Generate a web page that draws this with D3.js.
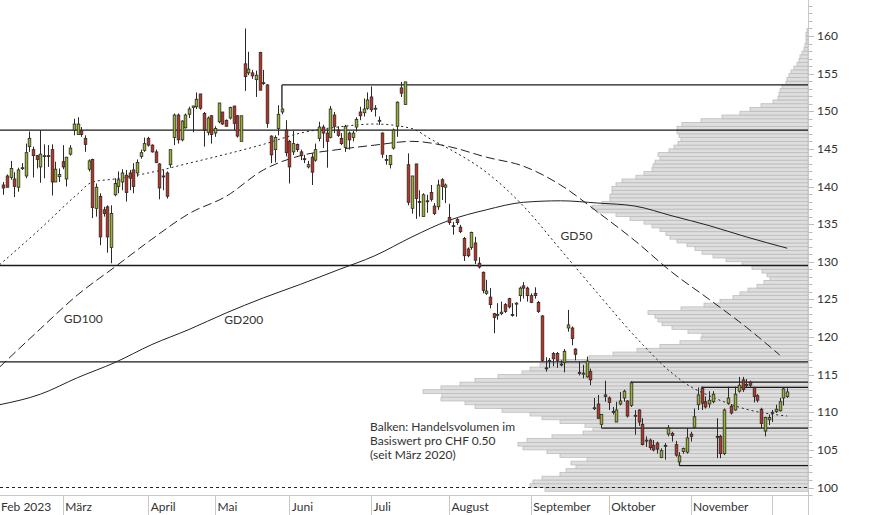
<!DOCTYPE html>
<html><head><meta charset="utf-8">
<script src="https://cdn.jsdelivr.net/npm/d3@7"></script>
<style>
body{margin:0;background:#fff}
svg{display:block}
text{font-family:Lato,"Open Sans",sans-serif;fill:#333}
</style>
</head><body>
<svg id="chart" width="874" height="515"></svg>
<script>
// ---------- DATA ----------
const monthLabels   = ["Feb 2023","März","April","Mai","Juni","Juli","August","September","Oktober","November",""];
const monthStartIdx = [-4,16,39,57,77,99,120,142,163,185,207];

// daily candles [open, high, low, close], trading days from 7 Feb 2023
const candles = [
[140.2,140.6,138.9,139.8],[141.4,141.6,139.9,139.9],[141.2,143.4,140.9,142.4],[141.0,141.9,138.6,140.0],
[139.9,142.5,139.3,142.2],[142.4,143.1,142.2,142.5],[141.4,145.7,141.1,144.5],[145.3,147.3,144.6,146.4],
[144.9,145.3,141.2,144.1],[144.1,144.2,142.4,143.6],[142.6,147.5,140.5,144.3],[144.0,145.6,141.1,144.1],
[144.1,145.5,142.6,144.0],[144.9,145.6,138.8,140.6],[140.6,143.3,140.6,142.3],[141.3,142.4,140.6,141.6],
[143.3,145.5,142.3,142.6],[141.0,143.9,140.0,143.9],[144.3,145.5,144.1,145.1],[147.5,149.0,146.8,148.3],
[146.9,149.2,146.9,148.3],[147.4,147.9,146.6,146.9],[146.4,146.8,144.6,145.6],[142.3,143.6,142.0,143.4],
[143.6,143.7,135.8,137.2],[137.1,140.4,136.0,139.9],[138.7,139.1,132.2,133.3],[136.9,137.3,136.0,136.4],
[137.3,137.5,131.2,133.3],[131.9,137.5,129.8,136.4],[138.9,141.1,138.7,140.4],[140.0,142.0,139.1,140.9],
[140.6,142.3,139.5,141.8],[141.5,142.2,138.0,139.2],[141.8,142.2,139.5,141.1],[142.2,143.1,139.1,140.0],
[141.8,143.6,141.3,143.2],[144.0,144.9,143.7,144.5],[144.8,146.5,144.6,145.7],[146.4,146.6,145.3,145.5],
[145.5,145.6,144.5,144.6],[144.6,144.9,143.1,143.2],[143.0,143.1,138.3,139.8],[141.4,142.2,139.5,141.3],
[141.8,142.0,138.4,138.7],[142.9,144.9,142.5,144.9],[146.5,149.7,145.5,149.5],[149.5,149.7,145.7,146.2],
[146.2,148.8,146.0,148.7],[147.8,149.7,147.7,149.5],[149.6,150.6,149.1,150.3],[150.5,150.7,147.2,150.7],
[150.6,152.5,150.3,151.6],[152.3,152.3,150.2,150.4],[149.7,149.9,145.3,147.5],[147.2,149.3,146.8,149.1],
[149.4,149.5,145.7,146.9],[147.1,148.0,146.6,147.7],[148.6,151.1,148.4,151.1],[149.9,149.9,148.2,148.3],
[148.8,148.9,148.0,148.0],[149.1,150.6,148.9,150.5],[150.7,150.7,147.5,148.4],[149.4,149.5,146.5,146.7],
[146.0,149.4,146.0,149.4],[156.3,161.0,152.7,154.6],[155.1,157.9,154.8,155.6],[155.1,155.5,154.3,154.7],
[154.2,155.4,151.9,154.8],[157.8,157.9,152.8,152.8],[153.8,155.5,153.5,153.8],[153.5,153.6,147.8,148.4],
[146.7,146.8,143.1,144.2],[144.9,146.8,143.2,146.5],[147.7,150.8,146.8,149.6],[149.9,150.4,149.6,150.3],
[147.5,148.8,144.0,144.5],[146.0,146.2,140.4,142.6],[144.6,147.4,144.2,145.7],[145.6,145.7,144.6,144.9],
[144.6,144.9,143.5,144.1],[143.7,144.2,143.1,143.6],[142.6,143.4,142.4,142.9],[143.9,144.4,140.2,141.9],
[143.5,145.7,143.3,144.9],[146.4,148.6,146.0,147.9],[147.9,148.2,145.1,147.1],[147.1,147.6,142.5,146.0],
[146.5,150.7,146.4,150.3],[149.5,149.9,147.1,148.0],[147.5,148.0,146.6,146.8],[146.4,147.1,145.5,145.7],
[145.2,148.2,144.6,148.0],[147.1,147.3,144.9,146.2],[146.5,147.4,146.0,147.1],[147.9,149.2,147.3,148.9],
[149.9,150.6,148.8,149.4],[149.8,151.7,149.3,150.3],[150.4,152.5,150.2,151.5],[151.9,153.3,149.9,150.2],
[150.3,150.8,149.3,150.4],[148.8,149.3,148.2,148.8],[147.1,147.2,143.8,144.3],[143.6,144.2,142.9,143.6],
[142.9,144.2,142.4,144.1],[145.1,147.7,144.9,147.5],[148.0,151.3,146.6,151.2],[153.1,153.9,151.9,152.4],
[150.9,153.9,150.9,153.9],[142.9,144.4,137.5,137.9],[137.1,141.4,136.4,141.4],[143.0,143.0,135.7,138.4],
[138.0,139.5,136.0,137.9],[136.0,139.1,136.0,138.9],[138.1,138.9,136.5,138.0],[139.2,140.2,138.0,138.3],
[137.4,137.8,136.2,136.4],[137.3,140.9,136.9,140.2],[140.9,141.1,138.2,140.0],[139.9,140.4,137.8,140.2],
[135.9,137.7,134.9,135.2],[134.8,135.3,133.6,134.7],[135.6,135.8,134.9,135.2],[134.6,134.9,133.8,134.0],
[133.1,133.3,130.1,130.8],[131.7,131.9,130.6,130.8],[131.9,134.0,131.6,133.9],[132.5,133.3,129.7,130.2],
[129.8,130.6,129.1,129.3],[128.6,128.7,125.8,126.2],[125.8,127.6,125.6,126.1],[125.3,126.5,123.8,124.3],
[123.1,123.2,120.5,122.6],[122.9,124.5,122.3,123.0],[123.1,124.7,122.9,123.3],[124.3,124.5,123.2,123.4],
[125.1,125.2,123.8,124.0],[123.0,124.5,122.7,122.9],[124.5,124.6,122.7,124.5],[125.5,126.7,124.7,126.5],
[126.8,127.3,125.1,126.5],[126.5,126.7,124.7,125.5],[125.5,125.8,124.5,124.6],[125.8,126.6,125.1,125.5],
[124.6,124.8,123.2,123.4],[122.8,122.9,116.7,116.9],[115.9,117.3,115.4,115.8],[116.8,117.2,115.9,116.9],
[117.8,118.0,116.1,117.1],[117.8,118.0,115.9,116.9],[116.4,116.9,116.1,116.4],[116.6,118.4,115.3,118.1],
[121.2,123.6,120.7,121.6],[121.2,121.4,118.9,119.8],[118.4,118.5,116.9,117.7],[115.3,116.8,114.9,115.3],
[115.1,116.3,114.5,115.2],[114.7,117.4,114.6,116.8],[115.4,115.8,113.6,114.3],[110.6,111.9,110.3,110.6],
[111.1,112.3,109.1,109.2],[108.4,109.7,107.9,109.7],[112.3,114.2,111.4,112.1],[111.9,112.1,110.3,111.3],
[110.1,110.7,109.7,110.1],[108.7,111.4,108.7,110.3],[111.1,112.7,110.9,111.5],[111.9,113.0,111.4,112.8],
[111.5,111.6,109.3,109.5],[110.9,114.1,110.7,113.9],[109.6,110.3,107.0,109.5],[110.3,110.4,108.2,108.7],
[108.4,109.2,105.6,105.7],[106.3,106.8,105.4,106.3],[106.3,106.5,105.0,105.3],[105.6,106.3,104.8,105.0],
[105.9,106.1,104.5,105.1],[104.0,105.2,103.9,104.9],[105.6,105.9,103.7,105.5],[107.1,108.3,106.8,107.9],
[107.2,107.4,106.1,106.9],[105.7,106.2,104.1,104.3],[103.4,104.7,102.9,104.2],[104.8,105.3,104.5,105.2],
[104.7,107.9,104.5,106.6],[107.1,107.4,106.1,106.8],[108.0,110.5,107.9,109.4],[111.0,113.3,110.3,112.3],
[113.2,113.4,110.3,111.2],[111.4,112.1,110.5,110.7],[111.1,112.8,110.6,111.6],[111.4,112.8,111.2,112.4],
[106.8,109.2,103.9,106.7],[106.8,107.0,103.9,104.5],[104.5,110.5,104.3,110.3],[111.2,113.4,111.0,111.9],
[110.8,111.1,109.7,109.9],[110.3,113.4,110.2,112.4],[112.8,114.7,112.6,113.6],[114.3,114.7,112.7,113.0],
[113.7,114.4,113.2,113.7],[114.0,114.2,113.2,113.6],[113.3,113.4,111.3,112.1],[112.2,112.4,111.3,111.6],
[110.4,110.6,107.9,108.5],[107.5,109.4,106.8,109.3],[109.0,109.7,108.3,109.3],[110.0,110.3,108.7,110.0],
[110.1,111.0,109.9,110.4],[110.2,111.9,110.1,111.4],[111.9,113.3,110.9,113.1],[112.1,113.2,111.9,112.7]
];

// moving averages: [trading-day index, value]
const gd50  = [[-1,129.6],[10,134.4],[20,139.0],[24,140.6],[30,141.0],[40,141.9],[50,143.1],[60,144.3],[70,145.6],
  [80,147.1],[90,147.9],[100,148.3],[110,147.7],[115,146.3],[120,145.0],[130,141.9],[140,137.4],[150,131.6],[160,125.8],
  [170,120.1],[180,115.2],[185,113.4],[190,112.2],[200,110.4],[211,109.5]];
const gd100 = [[-1,116.0],[10,121.1],[20,125.6],[30,129.3],[40,133.0],[50,136.4],[60,138.7],[70,142.2],[80,144.1],
  [90,144.9],[100,145.5],[110,146.0],[120,145.3],[130,143.9],[140,142.7],[150,140.2],[160,136.6],[170,132.8],
  [180,128.6],[190,125.0],[200,121.3],[209,117.6]];
const gd200 = [[-1,111.0],[10,112.4],[20,114.6],[30,116.6],[40,119.0],[50,121.0],[60,123.2],[70,125.2],[80,127.0],
  [90,128.9],[100,130.8],[110,133.3],[120,135.5],[130,136.9],[140,137.9],[150,138.1],[160,137.8],[170,137.4],
  [180,136.1],[190,134.8],[200,133.3],[211,131.8]];

// volume profile: bins of CHF 0.50 starting at 99.5
const volBinStart = 99.5, volBinStep = 0.5;
const volumes = [
 263,278,275,266,248,242,232,237,221,248,
 261,285,290,281,256,225,215,223,248,266,
 278,306,333,343,367,366,385,367,348,333,
 310,286,278,268,248,219,195,171,148,128,
 107,106,120,136,146,150,153,160,127,104,
 88,75,68,60,51,44,38,41,46,56,
 66,82,95,106,113,121,131,138,142,148,
 156,164,178,192,211,216,206,198,198,196,
 196,192,186,172,164,156,155,153,148,150,
 139,134,130,127,129,131,131,126,107,86,
 68,58,47,35,30,29,28,26,22,21,
 19,17,14,11,9,8,6,4,3,2,
 2,2,1];

// support / resistance lines
const levelPrices = [153.5,147.5,129.5,116.7,114.0,113.3,107.9,102.9];
const levelStart  = [75,null,null,null,169,188,161,182];
const levelAnchor = [150.4,null,null,null,114.1,113.4,107.9,104.2];

const yTickLabels = [100,105,110,115,120,125,130,135,140,145,150,155,160];
const maLabels = [{t:"GD100",i:16.3,v:122.3},{t:"GD200",i:59.5,v:122.1},{t:"GD50",i:150,v:133.3}];
const noteLines = ["Balken: Handelsvolumen im","Basiswert pro CHF 0.50","(seit März 2020)"];

// ---------- CHART ----------
const svg = d3.select("#chart");
const plotRight = 808, axisY = 495.5;
const x = d3.scaleLinear().domain([-0.888, 216.6]).range([0, plotRight]);
const y = d3.scaleLinear().domain([100, 160]).range([487.5, 36]);
const vx = d3.scaleLinear().domain([0, 400]).range([plotRight, plotRight - 400]);

svg.append("defs").append("clipPath").attr("id","plot")
  .append("rect").attr("x",0).attr("y",0).attr("width",plotRight).attr("height",axisY);

const g = svg.append("g").attr("clip-path","url(#plot)");

// volume profile
g.append("g").selectAll("rect").data(volumes).join("rect")
  .attr("x", d => vx(d))
  .attr("y", (d,k) => y(volBinStart + (k+1)*volBinStep))
  .attr("width", d => plotRight - vx(d))
  .attr("height", (d,k) => y(volBinStart + k*volBinStep) - y(volBinStart + (k+1)*volBinStep))
  .attr("fill","#dedede").attr("stroke","#bcbcbc").attr("stroke-width",0.8);

// dashed 100 line
g.append("line").attr("x1",0).attr("x2",plotRight).attr("y1",y(100)).attr("y2",y(100))
  .attr("stroke","#222").attr("stroke-width",1).attr("stroke-dasharray","3,3");

// level lines
levelPrices.forEach((p,k) => {
  const s = levelStart[k];
  const x1 = s === null ? 0 : x(s);
  g.append("line").attr("x1",x1).attr("x2",plotRight).attr("y1",y(p)).attr("y2",y(p))
    .attr("stroke","#1a1a1a").attr("stroke-width",1.3);
  if (s !== null) {
    g.append("line").attr("x1",x(s)).attr("x2",x(s)).attr("y1",y(p)).attr("y2",y(levelAnchor[k]))
      .attr("stroke","#1a1a1a").attr("stroke-width",1.3);
  }
});

// moving averages
const line = d3.line().x(d => x(d[0])).y(d => y(d[1])).curve(d3.curveMonotoneX);
g.append("path").attr("d", line(gd200)).attr("fill","none").attr("stroke","#222").attr("stroke-width",1);
g.append("path").attr("d", line(gd100)).attr("fill","none").attr("stroke","#222").attr("stroke-width",1)
  .attr("stroke-dasharray","9,4");
g.append("path").attr("d", line(gd50)).attr("fill","none").attr("stroke","#222").attr("stroke-width",1)
  .attr("stroke-dasharray","2,3");

// candles
const cg = g.append("g");
candles.forEach((c,i) => {
  const [o,h,l,cl] = c;
  const cx = Math.round(x(i)) + 0.5;
  cg.append("line").attr("x1",cx).attr("x2",cx).attr("y1",y(h)).attr("y2",y(l))
    .attr("stroke","#2a2a2a").attr("stroke-width",1);
  const top = y(Math.max(o,cl)), bot = y(Math.min(o,cl));
  cg.append("rect").attr("x",cx-1.3).attr("width",2.6)
    .attr("y",top).attr("height",Math.max(1,bot-top))
    .attr("fill", cl >= o ? "#9db42a" : "#c0321f")
    .attr("stroke","#2a2a2a").attr("stroke-width",0.8);
});

// MA labels & note
maLabels.forEach(m => {
  svg.append("text").attr("x",x(m.i)).attr("y",y(m.v)).attr("dominant-baseline","middle")
    .attr("font-size",12).text(m.t);
});
noteLines.forEach((t,k) => {
  svg.append("text").attr("x",370).attr("y",427.5 + k*14.4).attr("dominant-baseline","middle")
    .attr("font-size",12).text(t);
});

// right axis
svg.append("line").attr("x1",plotRight+0.5).attr("x2",plotRight+0.5).attr("y1",0).attr("y2",515)
  .attr("stroke","#c8c8c8");
d3.range(99,165).forEach(v => {
  const major = v % 5 === 0;
  svg.append("line").attr("x1",plotRight+0.5).attr("x2",plotRight+(major?6:4.5))
    .attr("y1",Math.round(y(v))+0.5).attr("y2",Math.round(y(v))+0.5).attr("stroke","#bdbdbd");
});
svg.append("g").selectAll("text").data(yTickLabels).join("text")
  .attr("x",817).attr("y",d => y(d) + 1).attr("dominant-baseline","middle")
  .attr("font-size",12).text(d => d);

// bottom axis
svg.append("line").attr("x1",0).attr("x2",plotRight).attr("y1",axisY).attr("y2",axisY).attr("stroke","#c8c8c8");
monthStartIdx.forEach((idx,k) => {
  const xp = x(idx);
  if (xp > 0) {
    svg.append("line").attr("x1",Math.round(xp)+0.5).attr("x2",Math.round(xp)+0.5)
      .attr("y1",axisY).attr("y2",515).attr("stroke","#c8c8c8");
  }
  svg.append("text").attr("x",Math.max(1,xp+2.5)).attr("y",507.5).attr("dominant-baseline","middle")
    .attr("font-size",12).text(monthLabels[k]);
});
</script>
</body></html>
